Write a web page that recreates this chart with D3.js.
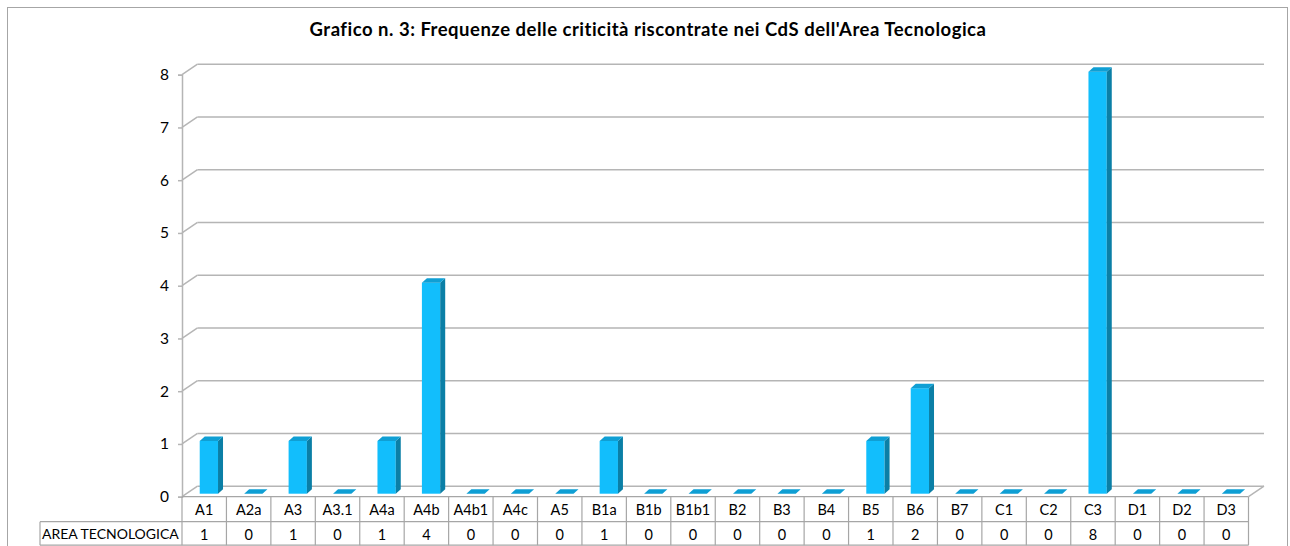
<!DOCTYPE html>
<html>
<head>
<meta charset="utf-8">
<script src="https://cdn.jsdelivr.net/npm/d3@7"></script>
<style>
  body { margin: 0; background: #fff; }
  svg { display: block; font-family: Lato, "Open Sans", sans-serif; }
</style>
</head>
<body>
<svg id="chart" width="1290" height="546"></svg>
<script>
var categories = ["A1", "A2a", "A3", "A3.1", "A4a", "A4b", "A4b1", "A4c", "A5", "B1a", "B1b", "B1b1",
  "B2", "B3", "B4", "B5", "B6", "B7", "C1", "C2", "C3", "D1", "D2", "D3"];
var values = [1, 0, 1, 0, 1, 4, 0, 0, 0, 1, 0, 0, 0, 0, 0, 1, 2, 0, 0, 0, 8, 0, 0, 0];
var seriesName = "AREA TECNOLOGICA";
var yTicks = [0, 1, 2, 3, 4, 5, 6, 7, 8];
var title = "Grafico n. 3: Frequenze delle criticità riscontrate nei CdS dell'Area Tecnologica";

var svg = d3.select("#chart");

// wall depth and bar depth (pseudo 3d)
var DX = 15.5, DY = -10.5;
var BDX = 5, BDY = -4.5;

var x = d3.scaleBand().domain(categories).range([182, 1248.5]).padding(0);
var y = d3.scaleLinear().domain([0, 8]).range([496.7, 74.7]);
var gridColor = "#b5b5b5";

// outer frame
svg.append("rect")
  .attr("x", 7.5).attr("y", 7.5).attr("width", 1280).attr("height", 545)
  .attr("fill", "none").attr("stroke", "#a6a6a6").attr("stroke-width", 1);

// title
svg.append("text")
  .attr("x", 648).attr("y", 36)
  .attr("text-anchor", "middle")
  .attr("font-size", 18.5).attr("font-weight", "bold")
  .attr("letter-spacing", 0.5)
  .attr("fill", "#000")
  .text(title);

// back wall gridlines + diagonals
var grid = svg.append("g");
yTicks.forEach(function(t) {
  var yf = y(t);
  grid.append("line")
    .attr("x1", x.range()[0] + DX).attr("x2", x.range()[1] + DX)
    .attr("y1", yf + DY).attr("y2", yf + DY)
    .attr("stroke", gridColor).attr("stroke-width", 1.5);
  grid.append("line")
    .attr("x1", x.range()[0]).attr("x2", x.range()[0] + DX)
    .attr("y1", yf).attr("y2", yf + DY)
    .attr("stroke", gridColor).attr("stroke-width", 1.5);
});
// floor right side
grid.append("line")
  .attr("x1", x.range()[1]).attr("x2", x.range()[1] + DX)
  .attr("y1", y(0)).attr("y2", y(0) + DY)
  .attr("stroke", gridColor).attr("stroke-width", 1.5);

// y axis
var yAxis = svg.append("g")
  .attr("transform", "translate(" + x.range()[0] + ",0)")
  .call(d3.axisLeft(y).tickValues(yTicks).tickSize(4).tickPadding(9).tickFormat(d3.format("d")));
yAxis.select(".domain").attr("stroke", gridColor).attr("stroke-width", 1.5);
yAxis.selectAll(".tick line").attr("stroke", gridColor).attr("stroke-width", 1.5);
yAxis.selectAll(".tick text").attr("font-size", 15.5).attr("fill", "#000")
  .attr("font-family", "Lato, sans-serif");

// bars
var bw = 18.3;
var bars = svg.append("g").selectAll("g.bar")
  .data(categories.map(function(c, i) { return { cat: c, value: values[i] }; }))
  .enter().append("g").attr("class", "bar");

bars.each(function(d) {
  var g = d3.select(this);
  var x0 = x(d.cat) + x.bandwidth() / 2 - 4.5;
  var x1 = x0 + bw;
  var yb = y(0) - 3;
  var yt = y(d.value) - 3;
  if (d.value > 0) {
    g.append("rect")
      .attr("x", x0).attr("y", yt).attr("width", bw).attr("height", yb - yt)
      .attr("fill", "#12befc");
    g.append("path")
      .attr("d", "M" + x1 + "," + yt + "L" + (x1 + BDX) + "," + (yt + BDY) +
        "L" + (x1 + BDX) + "," + (yb + BDY) + "L" + x1 + "," + yb + "Z")
      .attr("fill", "#0b7fa6");
  }
  g.append("path")
    .attr("d", "M" + x0 + "," + yt + "L" + (x0 + BDX) + "," + (yt + BDY) +
      "L" + (x1 + BDX) + "," + (yt + BDY) + "L" + x1 + "," + yt + "Z")
    .attr("fill", "#0f9fd4");
});

// data table
var tableColor = "#a6a6a6";
var r0 = y(0), r1 = 521.7, r2 = 545.2;
var table = svg.append("g");
table.append("line").attr("x1", x.range()[0]).attr("x2", x.range()[1])
  .attr("y1", r0).attr("y2", r0).attr("stroke", tableColor).attr("stroke-width", 1.2);
table.append("line").attr("x1", 40).attr("x2", x.range()[1])
  .attr("y1", r1).attr("y2", r1).attr("stroke", tableColor).attr("stroke-width", 1.2);
table.append("line").attr("x1", 40).attr("x2", x.range()[1])
  .attr("y1", r2).attr("y2", r2).attr("stroke", tableColor).attr("stroke-width", 1.2);
table.append("line").attr("x1", 40).attr("x2", 40)
  .attr("y1", r1).attr("y2", r2).attr("stroke", tableColor).attr("stroke-width", 1.2);
categories.concat([null]).forEach(function(c, i) {
  var xx = c === null ? x.range()[1] : x(c);
  table.append("line").attr("x1", xx).attr("x2", xx)
    .attr("y1", r0).attr("y2", r2).attr("stroke", tableColor).attr("stroke-width", 1.2);
});
table.selectAll("text.cat").data(categories).enter().append("text")
  .attr("class", "cat")
  .attr("x", function(c) { return x(c) + x.bandwidth() / 2; })
  .attr("y", r0 + 18)
  .attr("text-anchor", "middle").attr("font-size", 14.5).attr("fill", "#000")
  .text(function(c) { return c; });
table.selectAll("text.val").data(values).enter().append("text")
  .attr("class", "val")
  .attr("x", function(v, i) { return x(categories[i]) + x.bandwidth() / 2; })
  .attr("y", r1 + 18)
  .attr("text-anchor", "middle").attr("font-size", 14.5).attr("fill", "#000")
  .text(function(v) { return v; });
table.append("text")
  .attr("x", 42).attr("y", r1 + 17.5)
  .attr("font-size", 14).attr("fill", "#000")
  .text(seriesName);
</script>
</body>
</html>
